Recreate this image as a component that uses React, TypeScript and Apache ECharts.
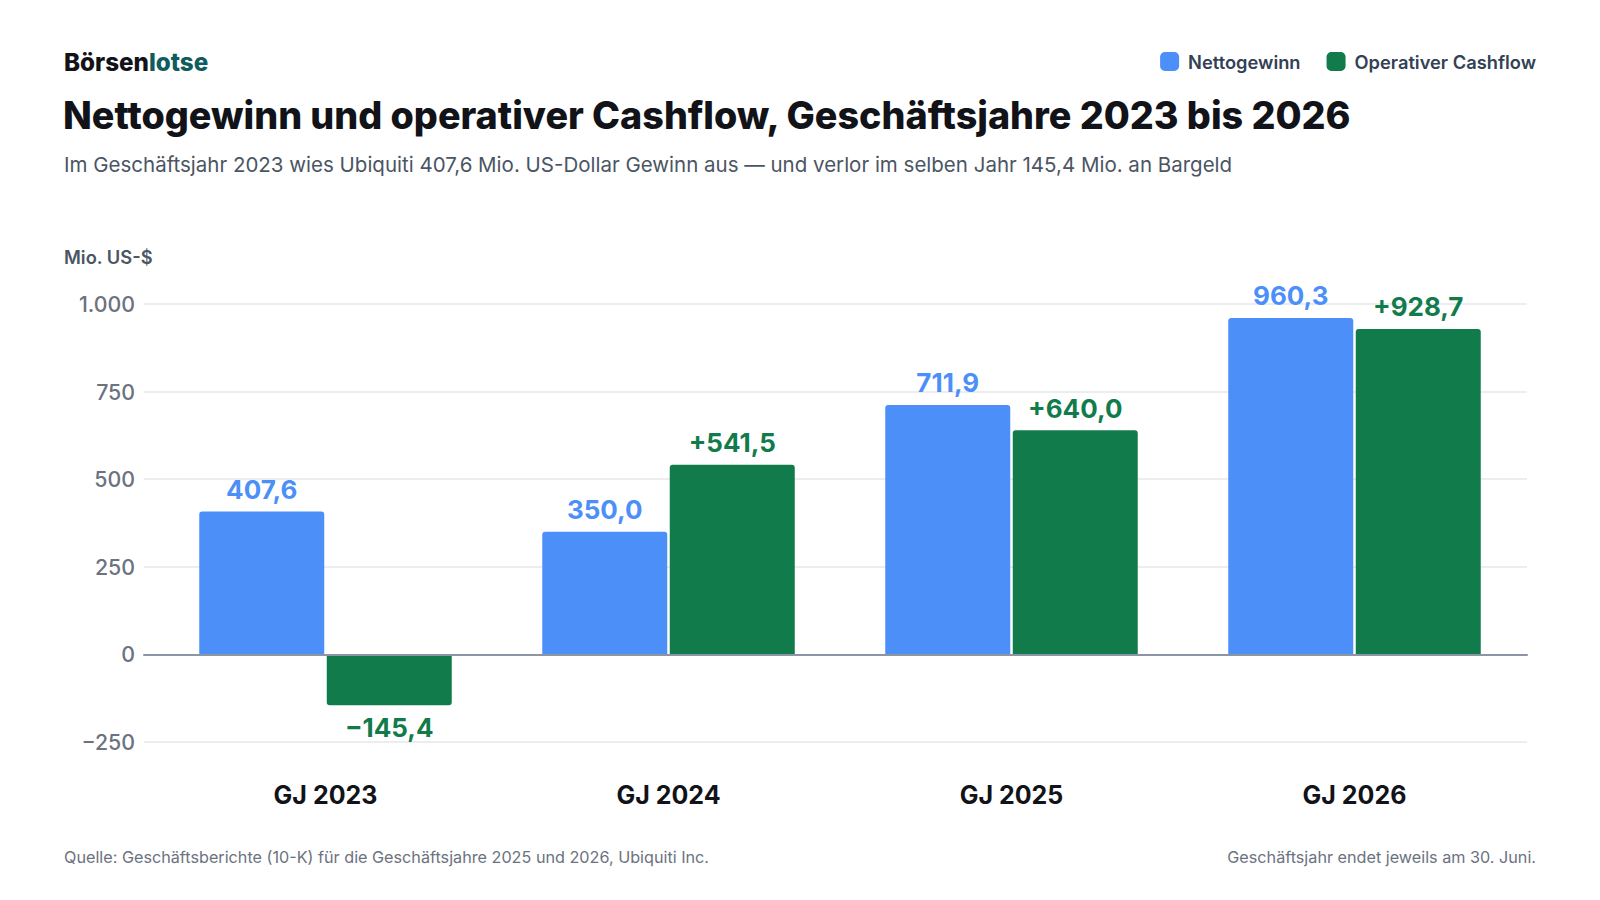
import React, { useEffect, useRef } from "react";
import * as echarts from "echarts";

const categories = ["GJ 2023", "GJ 2024", "GJ 2025", "GJ 2026"];
const nettogewinn = [407.6, 350.0, 711.9, 960.3];
const cashflow = [-145.4, 541.5, 640.0, 928.7];
const yTicks = [-250, 0, 250, 500, 750, 1000];

const FONT = "Inter, 'Noto Sans', sans-serif";
const BLUE = "#4d8ff9";
const GREEN = "#127b4b";

function fmtNum(v: number, dec: number): string {
  const abs = Math.abs(v);
  const fixed = abs.toFixed(dec);
  const [intPart, decPart] = fixed.split(".");
  const intFmt = intPart.replace(/\B(?=(\d{3})+(?!\d))/g, ".");
  return (v < 0 ? "\u2212" : "") + intFmt + (decPart ? "," + decPart : "");
}

function txt(x: number, y: number, text: string, style: any, align = "left") {
  return {
    type: "text",
    x,
    y,
    style: {
      text,
      fontFamily: FONT,
      align,
      textAlign: align,
      verticalAlign: "middle",
      textVerticalAlign: "middle",
      ...style,
    },
  };
}

export default function App() {
  const ref = useRef<HTMLDivElement>(null);
  useEffect(() => {
    if (!ref.current) return;
    const chart = echarts.init(ref.current, null, { renderer: "svg" });
    const gridTop = 304;
    const gridHeight = 438;
    const yBase = {
      type: "value" as const,
      min: yTicks[0],
      max: yTicks[yTicks.length - 1],
      interval: 250,
    };
    const labelBase = {
      show: true,
      fontFamily: FONT,
      fontSize: 26,
      fontWeight: 700,
      distance: 9,
    };
    chart.setOption({
      animation: false,
      backgroundColor: "#ffffff",
      textStyle: { fontFamily: FONT },
      legend: {
        right: 64,
        top: 52,
        padding: 0,
        icon: "roundRect",
        itemWidth: 19,
        itemHeight: 19,
        itemGap: 26,
        textStyle: { fontFamily: FONT, fontSize: 18.3, fontWeight: 600, color: "#334155", padding: [0, 0, 0, 4] },
        data: ["Nettogewinn", "Operativer Cashflow"],
      },
      graphic: [
        {
          type: "text",
          x: 64,
          y: 62,
          style: {
            text: "{a|Börsen}{b|lotse}",
            verticalAlign: "middle",
            textVerticalAlign: "middle",
            rich: {
              a: { fontFamily: FONT, fontSize: 24.2, fontWeight: 800, fill: "#111318", color: "#111318" },
              b: { fontFamily: FONT, fontSize: 24.2, fontWeight: 800, fill: "#0f5c5c", color: "#0f5c5c" },
            },
          },
        },
        txt(63, 115, "Nettogewinn und operativer Cashflow, Geschäftsjahre 2023 bis 2026", {
          fontSize: 37.7,
          fontWeight: 800,
          fill: "#111318",
        }),
        txt(64, 164, "Im Geschäftsjahr 2023 wies Ubiquiti 407,6 Mio. US-Dollar Gewinn aus — und verlor im selben Jahr 145,4 Mio. an Bargeld", {
          fontSize: 20.5,
          fontWeight: 400,
          fill: "#4b5563",
        }),
        txt(64, 257, "Mio. US-$", { fontSize: 18.3, fontWeight: 600, fill: "#4b5563" }),
        txt(64, 857, "Quelle: Geschäftsberichte (10-K) für die Geschäftsjahre 2025 und 2026, Ubiquiti Inc.", {
          fontSize: 16.2,
          fill: "#6b7280",
        }),
        txt(1536, 857, "Geschäftsjahr endet jeweils am 30. Juni.", { fontSize: 16.2, fill: "#6b7280" }, "right"),
      ],
      grid: [
        { left: 144, right: 73, top: gridTop, height: gridHeight },
        { left: 154, right: 74, top: gridTop, height: gridHeight },
      ],
      xAxis: [
        {
          type: "category",
          gridIndex: 0,
          data: categories,
          axisLine: { show: true, onZero: true, lineStyle: { color: "#8b95a3", width: 2 } },
          axisTick: { show: false },
          axisLabel: { show: false },
          splitLine: { show: false },
          z: 5,
        },
        {
          type: "category",
          gridIndex: 1,
          data: categories,
          axisLine: { show: false },
          axisTick: { show: false },
          axisLabel: {
            show: true,
            fontFamily: FONT,
            fontSize: 25,
            fontWeight: 700,
            color: "#111318",
            margin: 40,
          },
          position: "bottom",
        },
      ],
      yAxis: [
        {
          ...yBase,
          gridIndex: 0,
          axisLine: { show: false },
          axisTick: { show: false },
          axisLabel: {
            fontFamily: FONT,
            fontSize: 21.3,
            fontWeight: 500,
            color: "#6b7280",
            margin: 9,
            formatter: (v: number) => fmtNum(v, 0),
          },
          splitLine: { show: true, lineStyle: { color: "#e5e7eb", width: 1.5 } },
        },
        {
          ...yBase,
          gridIndex: 1,
          axisLine: { show: false },
          axisTick: { show: false },
          axisLabel: { show: false },
          splitLine: { show: false },
        },
      ],
      series: [
        {
          name: "Nettogewinn",
          type: "bar",
          xAxisIndex: 1,
          yAxisIndex: 1,
          barWidth: 125,
          barGap: "2%",
          itemStyle: { color: BLUE },
          label: {
            ...labelBase,
            position: "top",
            color: BLUE,
            formatter: (p: any) => fmtNum(p.value, 1),
          },
          data: nettogewinn.map((v) => ({
            value: v,
            itemStyle: { borderRadius: v >= 0 ? [3, 3, 0, 0] : [0, 0, 3, 3] },
            label: { position: v >= 0 ? "top" : "bottom" },
          })),
        },
        {
          name: "Operativer Cashflow",
          type: "bar",
          xAxisIndex: 1,
          yAxisIndex: 1,
          barWidth: 125,
          barGap: "2%",
          itemStyle: { color: GREEN },
          label: {
            ...labelBase,
            position: "top",
            color: GREEN,
            formatter: (p: any) => (p.value > 0 ? "+" : "") + fmtNum(p.value, 1),
          },
          data: cashflow.map((v) => ({
            value: v,
            itemStyle: { borderRadius: v >= 0 ? [3, 3, 0, 0] : [0, 0, 3, 3] },
            label: { position: v >= 0 ? "top" : "bottom" },
          })),
        },
      ],
    });
    return () => chart.dispose();
  }, []);
  return (
    <div
      ref={ref}
      style={{ position: "fixed", left: 0, top: 0, width: 1600, height: 900, background: "#fff" }}
    />
  );
}
